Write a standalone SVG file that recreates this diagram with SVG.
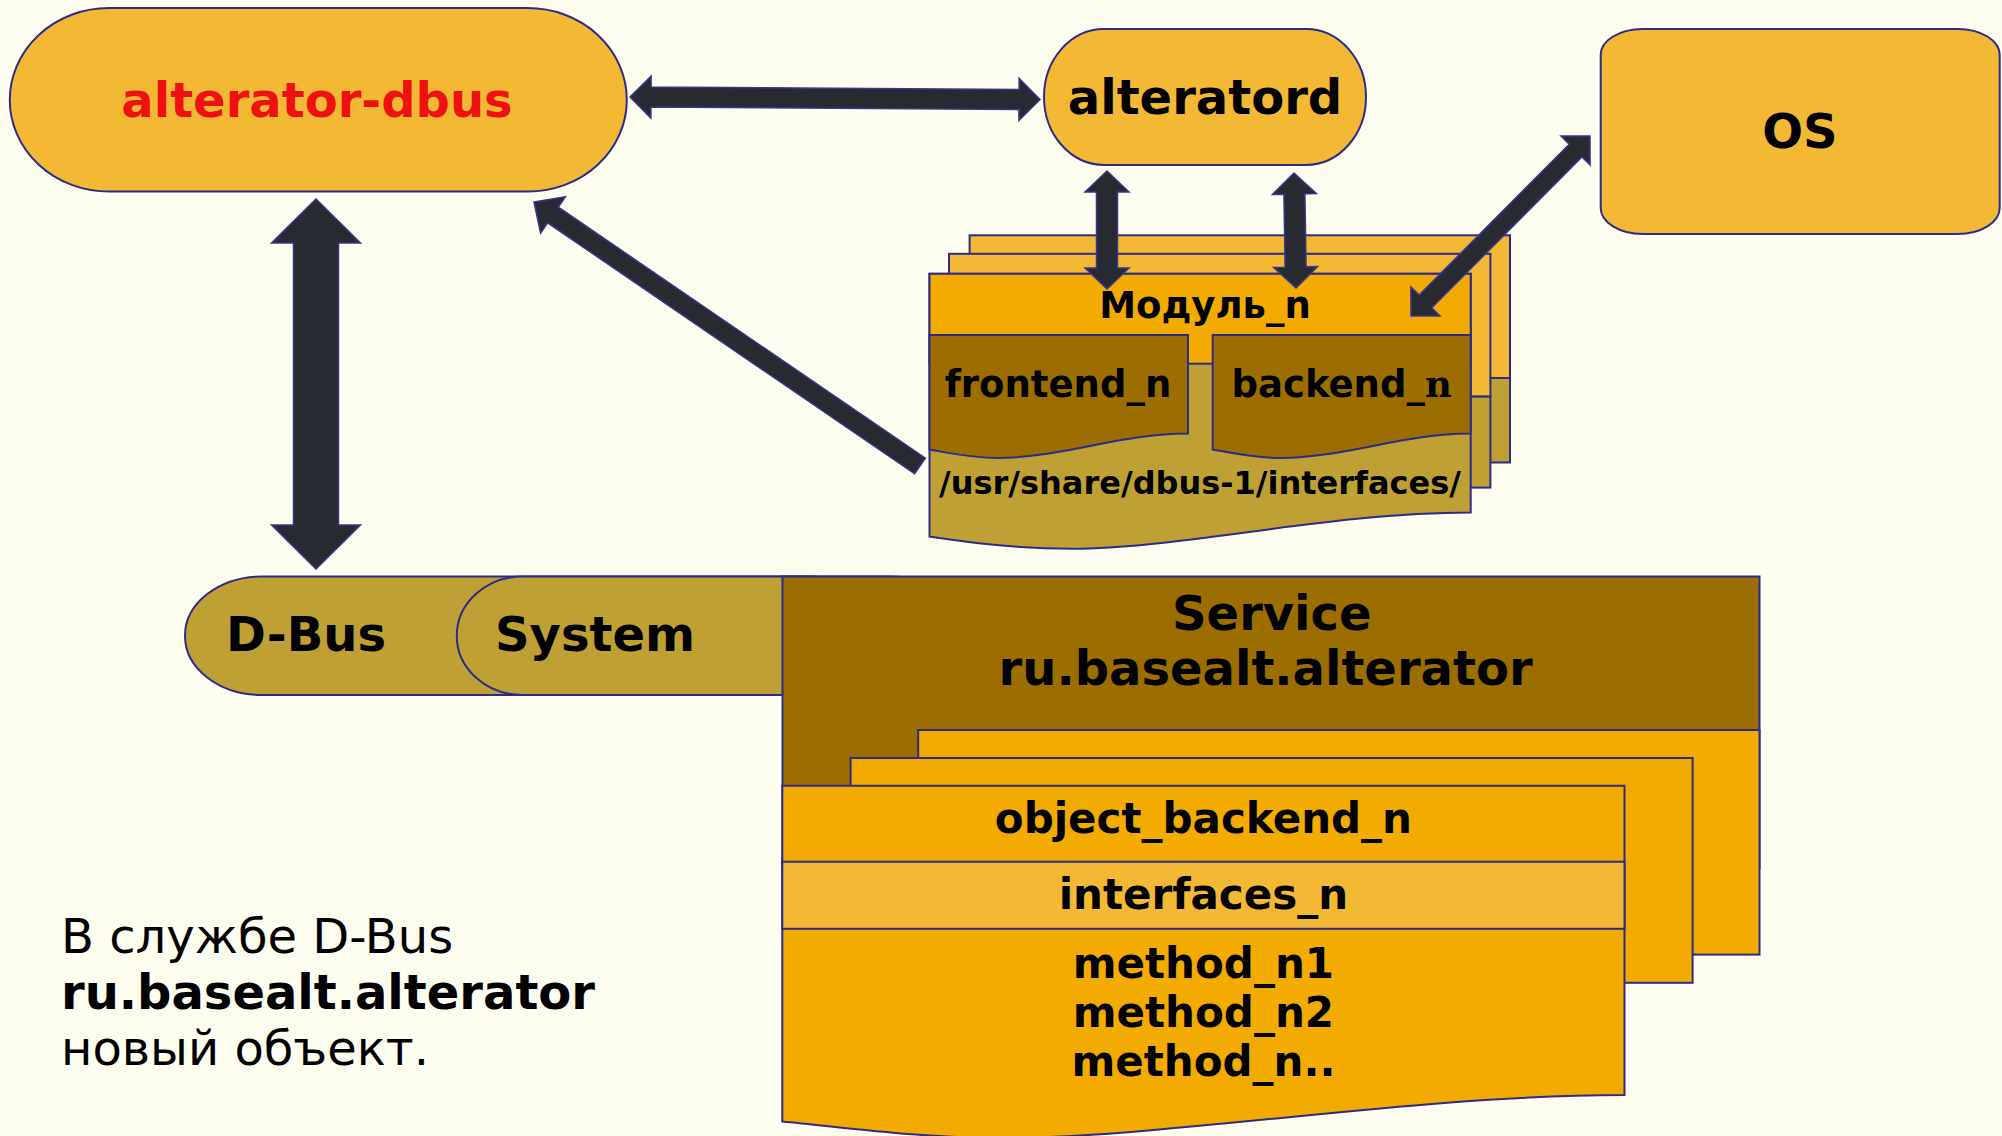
<svg xmlns="http://www.w3.org/2000/svg" width="2002" height="1136" viewBox="0 0 2002 1136">
<defs>
<style>
.s{stroke:#2e2b86;stroke-width:2}
.lo{fill:#f4b934}
.or{fill:#f4ab00}
.br{fill:#9c6e00}
.ol{fill:#bea035}
.ar{fill:#272a30;stroke:#3a3590;stroke-width:1.5;stroke-linejoin:miter}
text{font-family:"DejaVu Sans","Liberation Sans",sans-serif;font-weight:bold;fill:#000;text-anchor:middle}
.t48{font-size:48px}
.t42{font-size:42px}
.t37{font-size:37px}
.t32{font-size:32px}
.n{font-weight:normal;text-anchor:start}
</style>
</defs>
<rect width="2002" height="1136" fill="#fefef0"/>
<g id="alterator-dbus">
<rect class="s lo" x="9.8" y="8.1" width="617" height="183.5" rx="99" ry="91.7"/>
<text class="t48" x="317" y="116.5" style="fill:#ef1111">alterator-dbus</text>
</g>
<g id="alteratord">
<rect class="s lo" x="1044" y="28.9" width="322" height="136" rx="60" ry="68"/>
<text class="t48" x="1205" y="114">alteratord</text>
</g>
<g id="os">
<rect class="s lo" x="1600.7" y="28.9" width="399" height="205" rx="42" ry="26"/>
<text class="t48" x="1800" y="148">OS</text>
</g>
<g id="module">
<rect class="s lo" x="969.6" y="235.3" width="540.4" height="142.7"/>
<rect class="s ol" x="969.6" y="378" width="540.4" height="84.5"/>
<rect class="s lo" x="949" y="253.8" width="541.4" height="142.8"/>
<rect class="s ol" x="949" y="396.6" width="541.4" height="91"/>
<path class="s ol" d="M929.5,273.8 H1470.7 V512.5 C1330,512.5 1180,548.7 1072,548.7 C1010,548.7 960,541 929.5,536.5 Z"/>
<rect class="s or" x="929.5" y="273.8" width="541.2" height="89.9"/>
<text class="t37" x="1205" y="317.5">Модуль_n</text>
<path class="s br" d="M929.5,334.9 H1188 V433.6 C1120,433.6 1060,458 998,458 C970,458 950,453 929.5,449.6 Z"/>
<text class="t37" x="1058" y="396.6">frontend_n</text>
<path class="s br" d="M1212.7,334.9 H1470.7 V433.6 C1403,433.6 1343,458 1281,458 C1253,458 1233,453 1212.7,449.6 Z"/>
<text class="t37" x="1341.7" y="396.6">backend_<tspan style="font-family:'DejaVu Serif',serif">n</tspan></text>
<text class="t32" x="1200" y="494">/usr/share/dbus-1/interfaces/</text>
</g>
<g id="dbus">
<rect class="s ol" x="185" y="576.5" width="700" height="118.5" rx="77" ry="59"/>
<text class="t48" x="306" y="651">D-Bus</text>
</g>
<g id="system">
<rect class="s ol" x="456.8" y="576.5" width="500" height="118.5" rx="66" ry="59"/>
<text class="t48" x="595" y="651">System</text>
</g>
<g id="service">
<rect class="s br" x="782.5" y="576.5" width="977" height="291.5"/>
<text class="t48" x="1271.8" y="629.7">Service</text>
<text class="t48" x="1265.6" y="684.8">ru.basealt.alterator</text>
</g>
<g id="object">
<rect class="s or" x="918.2" y="730" width="841.3" height="224.6"/>
<rect class="s or" x="850.6" y="758" width="842" height="224.8"/>
<path class="s or" d="M782.3,785.7 H1624.5 V1095 C1410,1095 1170,1138 1001,1138 C920,1138 850,1128 782.3,1121.5 Z"/>
<rect class="s lo" x="782.3" y="861.7" width="842.2" height="67.1"/>
<text class="t42" x="1203.4" y="833.4">object_backend_n</text>
<text class="t42" x="1203.4" y="908.7">interfaces_n</text>
<text class="t42" x="1203.4" y="978.4">method_n1</text>
<text class="t42" x="1203.4" y="1026.8">method_n2</text>
<text class="t42" x="1203.4" y="1075.6">method_n..</text>
</g>
<g id="note">
<text class="t48 n" x="61" y="952.7">В службе D-Bus</text>
<text class="t48" x="61" y="1008.5" style="text-anchor:start">ru.basealt.alterator</text>
<text class="t48 n" x="61" y="1064.6">новый объект.</text>
</g>
<g id="connectors">
<polygon class="ar" points="630,97 650.9,118.1 650.9,107.1 1018.9,109.4 1018.9,120.4 1040,99.5 1019.1,78.4 1019.1,89.4 651.1,87.1 651.1,76.1"/>
<polygon class="ar" points="316,199 271.5,243 293.5,243 293.5,525 271.5,525 316,569 360.5,525 338.5,525 338.5,243 360.5,243"/>
<polygon class="ar" points="534,202 565.4,196.8 558.4,207.2 925.4,458.2 914.6,473.8 547.6,222.8 540.6,233.2"/>
<polygon class="ar" points="1411,316 1440,315.9 1431.8,307.8 1581.9,156.9 1590.1,165 1590,136 1561,136.1 1569.2,144.2 1419.1,295.1 1410.9,287"/>
<polygon class="ar" points="1107,171 1085,192 1096.5,192 1096.5,268 1085,268 1107,289 1129,268 1117.5,268 1117.5,192 1129,192"/>
<polygon class="ar" points="1294,173 1272.4,194.4 1283.9,194.2 1285.1,267.2 1273.6,267.4 1296,288 1317.6,266.6 1306.1,266.8 1304.9,193.8 1316.4,193.6"/>
</g>
</svg>
